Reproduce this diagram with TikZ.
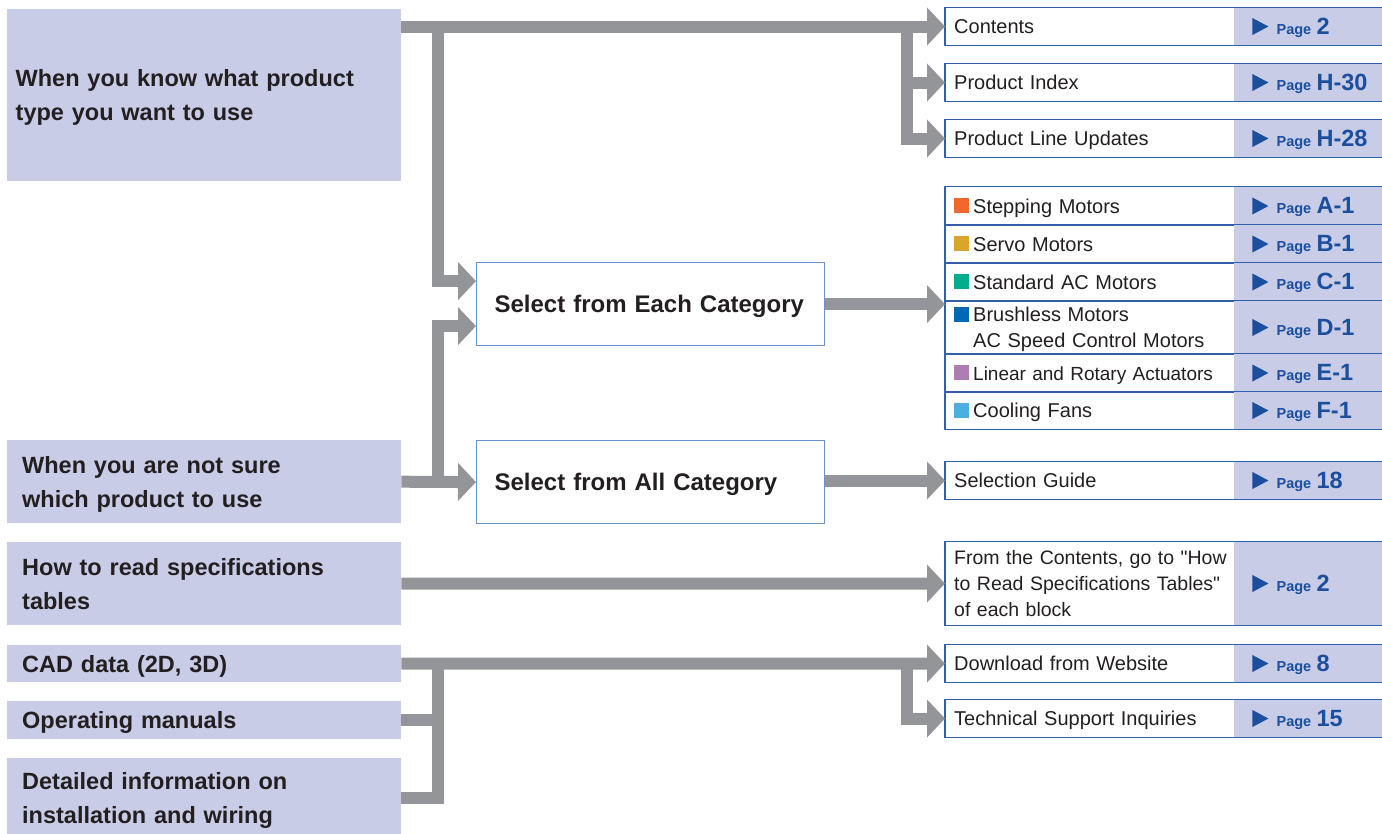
\documentclass[tikz,border=0pt]{standalone}
\usepackage{fontspec}
\setmainfont{Liberation Sans}[Ligatures=TeXOff]
\usetikzlibrary{arrows.meta,calc}
\definecolor{lav}{RGB}{200,204,230}
\definecolor{conngray}{RGB}{147,149,152}
\definecolor{rborder}{RGB}{50,95,170}
\definecolor{mborder}{RGB}{105,145,205}
\definecolor{pblue}{RGB}{28,78,158}
\definecolor{txt}{RGB}{35,31,32}
\definecolor{cstep}{RGB}{241,104,45}
\definecolor{cservo}{RGB}{218,165,40}
\definecolor{cac}{RGB}{0,174,142}
\definecolor{cbl}{RGB}{0,104,180}
\definecolor{clin}{RGB}{175,125,180}
\definecolor{cfan}{RGB}{75,175,225}
\newcommand\sq[1]{\textcolor{#1}{\rule{15pt}{15pt}}\hspace{4pt}}
\newcommand\lstrut{\rule[-8.5pt]{0pt}{34pt}}
\newcommand\rstrut{\rule[-5.5pt]{0pt}{25pt}}
\newcommand\mstrut{\rule[-5.5pt]{0pt}{28pt}}
\newcommand\pg[2]{%
  \fill[lav] ($(#1.north east)+(-148,0)$) rectangle (#1.south east);
  \draw[rborder, line width=1.2pt] (#1.north west) rectangle (#1.south east);
  \fill[pblue] ($(#1.east)+(-130,-8.5)$) -- ($(#1.east)+(-130,8.5)$) -- ($(#1.east)+(-114,0)$) -- cycle;
  \node[pgtxt, font=\bfseries\fontsize{14.5}{16}\selectfont] (#1-pg) at ($(#1.east)+(-106,7.5)$) {Page};
  \node[pgtxt, font=\bfseries\fontsize{23.5}{26}\selectfont] (#1-num) at ($(#1.east)+(-66,7.5)$) {#2};
}
\begin{document}
\begin{tikzpicture}[x=1pt,y=-1pt,
  every node/.style={text=txt},
  lbox/.style={fill=lav, anchor=north west, inner xsep=15pt, inner ysep=0pt,
    minimum width=394pt, text width=364pt, align=left,
    font=\bfseries\fontsize{23.5}{34}\selectfont,
    execute at begin node=\lstrut, execute at end node=\lstrut},
  mbox/.style={draw=mborder, line width=1.2pt, fill=white, anchor=north west,
    inner xsep=18pt, inner ysep=0pt, minimum width=348pt, text width=312pt,
    minimum height=83pt, align=left, font=\bfseries\fontsize{24}{28}\selectfont,
    execute at begin node=\mstrut, execute at end node=\mstrut},
  rbox/.style={fill=white, anchor=west, inner xsep=9pt, inner ysep=0pt,
    minimum width=437pt, text width=419pt, align=left,
    font=\fontsize{20}{25.5}\selectfont,
    execute at begin node=\rstrut, execute at end node=\rstrut},
  pgtxt/.style={anchor=base west, inner sep=0pt, text=pblue},
  conn/.style={draw=conngray, line width=12pt, -{Triangle[width=37pt,length=18pt]}},
  connplain/.style={draw=conngray, line width=12pt}]
\useasboundingbox (0,0) rectangle (1382,833);

% left boxes
\node[lbox, minimum height=172pt, inner xsep=8.5pt, text width=377pt] (L1) at (7,9)
  {When you know what product\\type you want to use};
\node[lbox, minimum height=83pt] (L2) at (7,440) {When you are not sure\\which product to use};
\node[lbox, minimum height=83pt] (L3) at (7,542) {How to read specifications\\tables};
\node[lbox, minimum height=37pt] (L4) at (7,645) {CAD data (2D, 3D)};
\node[lbox, minimum height=38pt] (L5) at (7,701) {Operating manuals};
\node[lbox, minimum height=80pt] (L6) at (7,758) {Detailed information on\\installation and wiring};

% middle boxes
\node[mbox] (E) at (476,262) {Select from Each Category};
\node[mbox] (A) at (476,440) {Select from All Category};

% right rows
\node[rbox, minimum height=37pt] (rC) at (945,26.5) {Contents};
\node[rbox, minimum height=37pt] (rPI) at (945,82.5) {Product Index};
\node[rbox, minimum height=37pt] (rPL) at (945,138.5) {Product Line Updates};
\node[rbox, minimum height=38pt] (t1) at (945,206) {\sq{cstep}Stepping Motors};
\node[rbox, minimum height=38pt] (t2) at (945,244) {\sq{cservo}Servo Motors};
\node[rbox, minimum height=38pt] (t3) at (945,282) {\sq{cac}Standard AC Motors};
\node[rbox, minimum height=53pt] (t4) at (945,327.5) {\sq{cbl}Brushless Motors\\\hspace*{19pt}AC Speed Control Motors};
\node[rbox, minimum height=38pt, font=\fontsize{19}{25.5}\selectfont] (t5) at (945,373) {\sq{clin}Linear and Rotary Actuators};
\node[rbox, minimum height=37pt] (t6) at (945,410.5) {\sq{cfan}Cooling Fans};
\node[rbox, minimum height=37pt] (rSG) at (945,480.5) {Selection Guide};
\node[rbox, minimum height=83pt, font=\fontsize{19.5}{26}\selectfont] (rHR) at (945,583.5)
  {From the Contents, go to "How\\to Read Specifications Tables"\\of each block};
\node[rbox, minimum height=37pt] (rDL) at (945,663.5) {Download from Website};
\node[rbox, minimum height=37pt] (rTS) at (945,718.5) {Technical Support Inquiries};

\pg{rC}{2}
\pg{rPI}{H-30}
\pg{rPL}{H-28}
\pg{t1}{A-1}
\pg{t2}{B-1}
\pg{t3}{C-1}
\pg{t4}{D-1}
\pg{t5}{E-1}
\pg{t6}{F-1}
\pg{rSG}{18}
\pg{rHR}{2}
\pg{rDL}{8}
\pg{rTS}{15}

% junction coordinates
\coordinate (j1) at ($(rC.west)+(-38,0)$);
\coordinate (j2) at ($(L1.east |- rC.west)+(37,0)$);
\coordinate (j3) at ($(L2.east)+(37,0)$);
\coordinate (j4) at ($(rDL.west)+(-38,0)$);
\coordinate (j5) at ($(L4.east)+(37,0)$);
\coordinate (eIn1) at ($(E.west)+(0,-23)$);
\coordinate (eIn2) at ($(E.west)+(0,22)$);

% connectors
\draw[conn] (L1.east |- rC.west) -- (rC.west);
\draw[conn] (j1) |- (rPI.west);
\draw[conn] (j1) |- (rPL.west);
\draw[conn] (j2) |- (eIn1);
\draw[conn] (L2.east) -- (A.west);
\draw[conn] (j3) |- (eIn2);
\draw[conn] (E.east) -- (E.east -| t3.west);
\draw[conn] (A.east |- rSG.west) -- (rSG.west);
\draw[conn] (L3.east) -- (rHR.west);
\draw[conn] (L4.east) -- (rDL.west);
\draw[conn] (j4) |- (rTS.west);
\draw[connplain] (L5.east) -| (j5);
\draw[connplain] (L6.east) -| (j5);
\end{tikzpicture}
\end{document}
